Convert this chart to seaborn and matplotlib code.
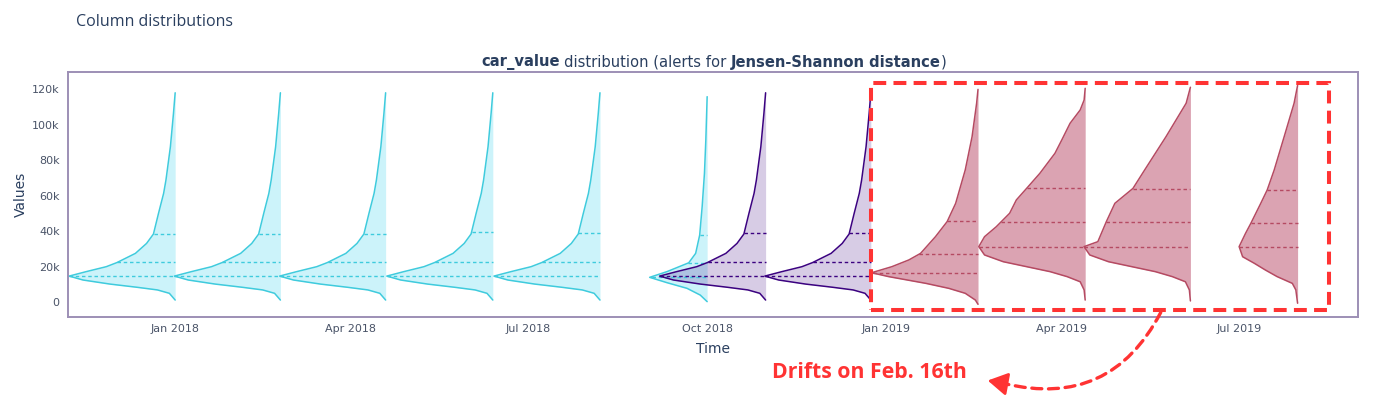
import matplotlib
matplotlib.use("Agg")
import matplotlib.pyplot as plt
import matplotlib.dates as mdates
from matplotlib.patches import Rectangle, FancyArrowPatch
from matplotlib.ticker import FuncFormatter
import seaborn as sns
import numpy as np
import pandas as pd

# chunk end date = flat edge of each half violin
chunk_end = ["2018-01-01", "2018-02-24", "2018-04-19", "2018-06-13", "2018-08-07", "2018-10-01",
             "2018-10-31", "2018-12-24", "2019-02-17", "2019-04-13", "2019-06-06", "2019-07-31"]
chunk_days = [54.4, 54.4, 54.4, 54.4, 54.4, 29.5, 54.4, 54.4, 54.6, 54.6, 54.6, 30.0]
period = ["reference", "reference", "reference", "reference", "reference", "reference",
          "analysis", "analysis", "alert", "alert", "alert", "alert"]
shape = ["ref", "ref", "ref", "ref", "ref", "ref_short",
         "ref", "ref", "shift", "drift", "drift2", "drift_short"]

# quartiles of car_value per chunk
q1 = [14600, 14600, 14600, 14600, 14600, 14300, 14600, 14600, 16300, 31200, 31200, 31200]
q2 = [22300, 22300, 22300, 22400, 22300, 22000, 22400, 22400, 27000, 45300, 45300, 44300]
q3 = [38500, 38500, 38400, 39500, 38600, 37700, 39000, 39000, 45600, 64000, 63800, 63100]

# density outlines (values in k, relative width)
ref_vals = [1.1, 4.9, 6.8, 8.3, 10.1, 12.4, 14.6, 17.1, 19.9, 22.2, 27.4, 33.0, 38.3, 50.0, 61.2, 68.7, 87.5, 106.3, 117.9]
ref_w = [0, 0.055, 0.167, 0.36, 0.615, 0.87, 1.0, 0.84, 0.65, 0.55, 0.375, 0.27, 0.205, 0.157, 0.109, 0.087, 0.045, 0.016, 0]

ref_short_vals = [0.2, 3.9, 7.7, 10.9, 13.9, 17.1, 22.1, 27.4, 37.7, 53.7, 72.5, 91.3, 115.7]
ref_short_w = [0, 0.12, 0.35, 0.70, 1.0, 0.70, 0.32, 0.20, 0.13, 0.087, 0.047, 0.023, 0]

shift_vals = [-1.3, 1.1, 4.9, 7.7, 10.5, 14.3, 16.5, 19.9, 23.7, 27.4, 36.8, 45.3, 55.6, 74.4, 93.1, 112.0, 119.8]
shift_w = [0, 0.025, 0.12, 0.275, 0.49, 0.84, 1.0, 0.81, 0.65, 0.54, 0.40, 0.29, 0.21, 0.12, 0.056, 0.013, 0]

drift_vals = [1.1, 6.8, 11.4, 14.3, 17.1, 19.9, 22.7, 26.5, 31.2, 36.8, 42.4, 50.0, 57.5, 65.0, 72.5,
              83.8, 91.3, 100.7, 108.2, 113.8, 120.4]
drift_w = [0, 0.01, 0.047, 0.17, 0.33, 0.55, 0.77, 0.946, 1.0, 0.946, 0.836, 0.71, 0.647, 0.536, 0.426,
           0.284, 0.22, 0.142, 0.047, 0.01, 0]

drift2_vals = [0.6, 6.8, 11.4, 14.3, 17.1, 19.9, 22.7, 26.5, 31.2, 34.0, 45.3, 55.6, 64.0, 74.4, 93.1, 112.0, 121.0]
drift2_w = [0, 0.01, 0.047, 0.17, 0.33, 0.55, 0.77, 0.946, 1.0, 0.87, 0.79, 0.71, 0.54, 0.43, 0.23, 0.04, 0]

drift_short_vals = [-0.7, 6.8, 10.5, 14.3, 18.0, 21.8, 25.5, 31.2, 38.7, 44.3, 55.6, 63.1, 74.4, 93.1, 112.0, 122.0]
drift_short_w = [0, 0.03, 0.09, 0.35, 0.55, 0.74, 0.94, 1.0, 0.89, 0.80, 0.63, 0.52, 0.40, 0.23, 0.06, 0]

profiles = {
    "ref": (ref_vals, ref_w),
    "ref_short": (ref_short_vals, ref_short_w),
    "shift": (shift_vals, shift_w),
    "drift": (drift_vals, drift_w),
    "drift2": (drift2_vals, drift2_w),
    "drift_short": (drift_short_vals, drift_short_w),
}
line_colors = {"reference": "#3fcbdd", "analysis": "#3b0280", "alert": "#b54a62"}
fill_colors = {"reference": (0.0, 0.78, 0.9, 0.2), "analysis": (0.23, 0.01, 0.5, 0.2),
               "alert": (0.69, 0.2, 0.33, 0.45)}

sns.set_style("white")
plt.rcParams["font.family"] = ["DejaVu Sans"]

W, H = 1387, 396
fig = plt.figure(figsize=(W / 100, H / 100), dpi=100)
ax = fig.add_axes([68 / W, 1 - 317 / H, (1358 - 68) / W, (317 - 72) / H])

for end, days, per, shp, a, b, c in zip(chunk_end, chunk_days, period, shape, q1, q2, q3):
    e = mdates.date2num(pd.Timestamp(end))
    vals = np.array(profiles[shp][0]) * 1000
    w = np.array(profiles[shp][1])
    xs = e - days * w
    ax.fill_betweenx(vals, xs, e, color=fill_colors[per], lw=0)
    sns.lineplot(x=xs, y=vals, sort=False, estimator=None, color=line_colors[per], lw=1.1, ax=ax)
    for q in (a, b, c):
        qw = np.interp(q, vals, w)
        ax.plot([e - days * qw, e], [q, q], color=line_colors[per], lw=1.0, ls=(0, (2.5, 2)))

ax.set_xlim(mdates.date2num(pd.Timestamp("2017-11-07")), mdates.date2num(pd.Timestamp("2019-08-31")))
ax.set_ylim(-8450, 129600)
ax.xaxis.set_major_locator(mdates.MonthLocator(bymonth=[1, 4, 7, 10]))
ax.xaxis.set_major_formatter(mdates.DateFormatter("%b %Y"))
ax.set_yticks([0, 20000, 40000, 60000, 80000, 100000, 120000])
ax.yaxis.set_major_formatter(FuncFormatter(lambda v, p: "0" if v == 0 else f"{int(v / 1000)}k"))
ax.tick_params(axis="both", length=0, labelsize=8, labelcolor="#4a5468")
ax.tick_params(axis="x", pad=5)
ax.tick_params(axis="y", pad=6)
for s in ax.spines.values():
    s.set_color("#9d8fb5")
    s.set_linewidth(1.4)
ax.set_xlabel("Time", fontsize=10, color="#2a3f5f", labelpad=6)
ax.set_ylabel("Values", fontsize=10, color="#2a3f5f", labelpad=3)

fig.text(76 / W, 1 - 22 / H, "Column distributions", fontsize=11.5, color="#2a3f5f",
         va="center", ha="left", family="Open Sans")

# axes title with bold pieces
pieces = [("car_value", "bold"), ("distribution (alerts for", "normal"),
          ("Jensen-Shannon distance", "bold"), (")", "normal")]
gaps = [4, 4, 0, 0]
fig.canvas.draw()
r = fig.canvas.get_renderer()
texts = []
total = 0
for (s, wt), g in zip(pieces, gaps):
    t = fig.text(0, 1 - 62 / H, s, fontsize=10.6, fontweight=wt, color="#2a3f5f",
                 va="center", ha="left")
    wpx = t.get_window_extent(renderer=r).width
    texts.append((t, wpx))
    total += wpx + g
x0 = 714 - total / 2
for (t, wpx), g in zip(texts, gaps):
    t.set_x(x0 / W)
    x0 += wpx + g

# drift annotation
x_left = mdates.date2num(pd.Timestamp("2018-12-24"))
x_right = mdates.date2num(pd.Timestamp("2019-08-16"))
ax.add_patch(Rectangle((x_left, -4500), x_right - x_left, 127900, fill=False,
                       edgecolor="#ff3333", lw=2.9, ls=(0, (3.2, 1.8)), clip_on=False, zorder=5))
fig.patches.append(FancyArrowPatch((1162 / W, 1 - 310 / H), (1002 / W, 1 - 383 / H),
                                   transform=fig.transFigure, connectionstyle="arc3,rad=-0.4",
                                   arrowstyle="-", color="#ff3333", lw=2.4, ls=(0, (3, 2))))
fig.patches.append(FancyArrowPatch((1004 / W, 1 - 383.5 / H), (985 / W, 1 - 380 / H),
                                   transform=fig.transFigure, arrowstyle="-|>,head_length=12,head_width=7",
                                   color="#ff3333", lw=2.0))
fig.text(772 / W, 1 - 372 / H, "Drifts on Feb. 16th", fontsize=15.3, fontweight="bold",
         color="#ff3333", va="center", ha="left", family="Open Sans")

fig.savefig("out.png", dpi=100)
